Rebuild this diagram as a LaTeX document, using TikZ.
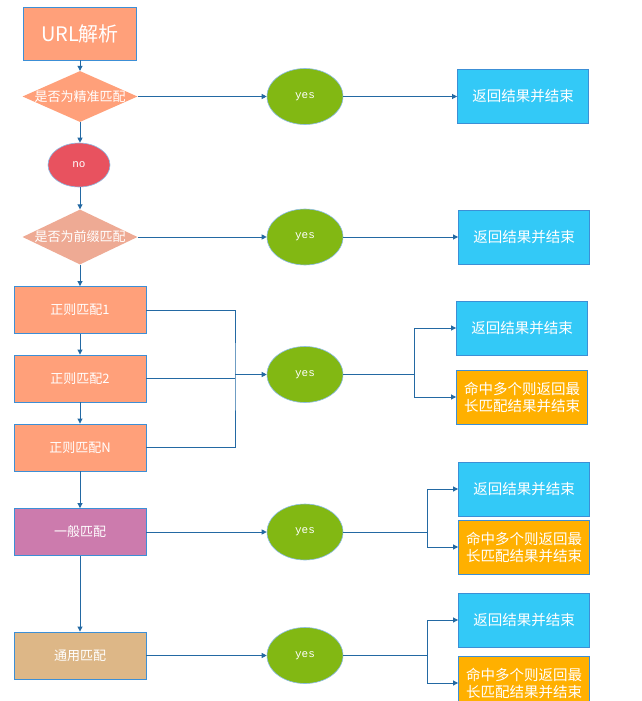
\documentclass[tikz,border=0pt]{standalone}
\usepackage{fontspec}
\newfontfamily\cjk{Noto Sans CJK SC}
\newfontfamily\monof{Liberation Mono}
\usetikzlibrary{shapes.geometric,arrows.meta}
\definecolor{salmon}{HTML}{FFA07A}
\definecolor{salmonB}{HTML}{EEAA94}
\definecolor{nored}{HTML}{E8525F}
\definecolor{yesgreen}{HTML}{82B813}
\definecolor{skyb}{HTML}{33C9F7}
\definecolor{orangeb}{HTML}{FFB000}
\definecolor{pinkb}{HTML}{CC7BAD}
\definecolor{tanb}{HTML}{DDB787}
\definecolor{bord}{HTML}{3C8FD6}
\definecolor{arr}{HTML}{2369A3}
\tikzset{
  boxnode/.style={rectangle, draw=bord, line width=0.9pt, text=white, inner sep=0pt, font=\cjk\fontsize{13}{15}\selectfont},
  leftbox/.style={boxnode, fill=salmon, minimum width=132pt, minimum height=47pt},
  retbox/.style={boxnode, fill=skyb, minimum width=131pt, minimum height=54pt, font=\cjk\fontsize{14.5}{16}\selectfont},
  hitbox/.style={boxnode, fill=orangeb, minimum width=131pt, minimum height=54pt, align=center, font=\cjk\fontsize{14.5}{17}\selectfont},
  decis/.style={diamond, aspect=2.25, fill=salmon, text=white, inner xsep=-5pt, inner ysep=0pt, minimum width=115pt, minimum height=51pt, font=\cjk\fontsize{13}{13}\selectfont},
  yesnode/.style={ellipse, fill=yesgreen, draw=bord!60, line width=0.6pt, text=white, minimum width=76pt, minimum height=56pt, inner sep=0pt, font=\monof\fontsize{11}{11}\selectfont},
  conn/.style={draw=arr, line width=0.9pt, -{Triangle[length=5pt,width=5pt]}},
  line/.style={draw=arr, line width=0.9pt}
}
\begin{document}
\begin{tikzpicture}[x=1pt,y=-1pt]
\useasboundingbox[fill=white] (0,0) rectangle (642,701);
% left column
\node[boxnode, fill=salmon, minimum width=113pt, minimum height=53pt, font=\cjk\fontsize{20}{22}\selectfont] (url) at (80,33.5) {URL解析};
\node[decis] (d1) at (80,96.5) {是否为精准匹配};
\node[ellipse, fill=nored, draw=bord!60, line width=0.6pt, text=white, minimum width=62pt, minimum height=44pt, inner sep=0pt, font=\monof\fontsize{11}{11}\selectfont] (no) at (79,165) {no};
\node[decis, fill=salmonB, minimum height=55pt] (d2) at (80,237) {是否为前缀匹配};
\node[leftbox] (g1) at (80,310) {正则匹配1};
\node[leftbox] (g2) at (80,378.5) {正则匹配2};
\node[leftbox] (gn) at (80,447.5) {正则匹配N};
\node[leftbox, fill=pinkb] (gen) at (80,532) {一般匹配};
\node[leftbox, fill=tanb] (uni) at (80,655.5) {通用匹配};
% yes ellipses
\node[yesnode] (y1) at (305,96.5) {yes};
\node[yesnode] (y2) at (305,237) {yes};
\node[yesnode] (y3) at (305,374.5) {yes};
\node[yesnode] (y4) at (305,532) {yes};
\node[yesnode] (y5) at (305,655.5) {yes};
% result boxes
\node[retbox] (r1) at (523,96.5) {返回结果并结束};
\node[retbox] (r2) at (524,237) {返回结果并结束};
\node[retbox] (r3) at (522,328) {返回结果并结束};
\node[hitbox] (o3) at (522,397) {命中多个则返回最\\长匹配结果并结束};
\node[retbox] (r4) at (524,489) {返回结果并结束};
\node[hitbox] (o4) at (524,547) {命中多个则返回最\\长匹配结果并结束};
\node[retbox] (r5) at (524,620) {返回结果并结束};
\node[hitbox] (o5) at (524,683) {命中多个则返回最\\长匹配结果并结束};
% vertical flow
\draw[conn] (url.south) -- (d1.north);
\draw[conn] (d1.south) -- (no.north -| d1.south);
\draw[conn] (no.south -| d2.north) -- (d2.north);
\draw[conn] (d2.south) -- (g1.north);
\draw[conn] (g1.south) -- (g2.north);
\draw[conn] (g2.south) -- (gn.north);
\draw[conn] (gn.south) -- (gen.north);
\draw[conn] (gen.south) -- (uni.north);
% to yes
\draw[conn] (d1.east) -- (y1.west);
\draw[conn] (d2.east) -- (y2.west);
\coordinate (cx) at (235,374.5);
\draw[line] (g1.east) -| (cx) |- (gn.east);
\draw[line] (g2.east) -- (g2.east -| cx);
\draw[conn] (cx) -- (y3.west);
\draw[conn] (gen.east) -- (y4.west);
\draw[conn] (uni.east) -- (y5.west);
% to results
\draw[conn] (y1.east) -- (r1.west);
\draw[conn] (y2.east) -- (r2.west);
\coordinate (b3) at (414,374.5);
\draw[line] (y3.east) -- (b3);
\draw[conn] (b3) |- (r3.west);
\draw[conn] (b3) |- (o3.west);
\coordinate (b4) at (427,532);
\draw[line] (y4.east) -- (b4);
\draw[conn] (b4) |- (r4.west);
\draw[conn] (b4) |- (o4.west);
\coordinate (b5) at (427,655.5);
\draw[line] (y5.east) -- (b5);
\draw[conn] (b5) |- (r5.west);
\draw[conn] (b5) |- (o5.west);
\end{tikzpicture}
\end{document}
